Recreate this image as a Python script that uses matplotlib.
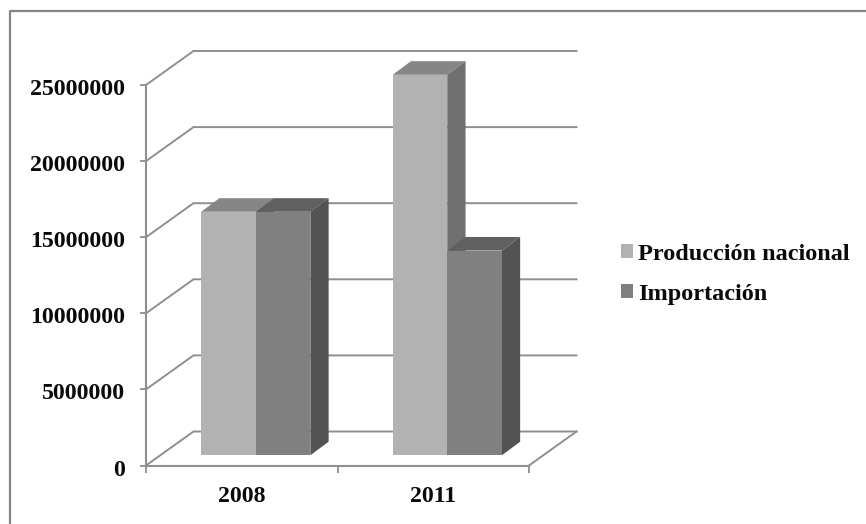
import matplotlib
matplotlib.use('Agg')
import numpy as np
import matplotlib.pyplot as plt
from matplotlib.lines import Line2D
from matplotlib.patches import Patch, Polygon
from matplotlib.transforms import ScaledTranslation

years = ['2008', '2011']
produccion = [16000000, 25000000]
importacion = [16000000, 13450000]
series_names = ['Producción nacional', 'Importación']
yticks = [0, 5000000, 10000000, 15000000, 20000000, 25000000]

W, H = 866, 524
front_c = ['#b2b2b2', '#808080']
top_c = ['#868686', '#606060']
side_c = ['#707070', '#535353']
line_c = '#8f8f8f'
text_c = '#0a0a0a'

plt.rcParams['font.family'] = ['Liberation Serif', 'DejaVu Serif']
plt.rcParams['font.weight'] = 'bold'

fig = plt.figure(figsize=(W / 100, H / 100), dpi=100)
ax = fig.add_axes([146 / W, 1 - 465.5 / H, (529 - 146) / W, (465.5 - 85) / H])
ax.set_xlim(0, 2)
ax.set_ylim(0, 25000000)

# pixels -> data units, for the fake 3d offsets
px_x = 2 / (529 - 146)
px_y = 25000000 / (465.5 - 85)

# outer frame, runs off the right and bottom of the image
fig.add_artist(Line2D([9.5 / W, 9.5 / W, 1], [0, 1 - 11 / H, 1 - 11 / H], color='#858585', lw=1.6))

# back wall and side wall lines
back_x = 47.5 * px_x
back_y = 34 * px_y
for v in yticks:
    ax.plot([0, back_x, 2 + back_x], [v, v + back_y, v + back_y], color=line_c, lw=1.4,
            clip_on=False, zorder=1, solid_joinstyle='miter')
ax.plot([2, 2 + back_x], [0, back_y], color=line_c, lw=1.4, clip_on=False, zorder=1)

# bars: front face from ax.bar, then top and side faces offset into the depth
bar_w = 54.6 * px_x
base_dx = 14 * px_x
base_dy = 10.2 * px_y
depth_x = 18.3 * px_x
depth_y = 13.6 * px_y
centers = np.array([0.5, 1.5]) + base_dx

def draw_bar(x0, val, i):
    x1 = x0 + bar_w
    y0 = base_dy
    y1 = base_dy + val
    ax.bar(x0, val, bar_w, bottom=y0, align='edge', color=front_c[i], zorder=4, clip_on=False)
    ax.add_patch(Polygon([(x0, y1), (x0 + depth_x, y1 + depth_y), (x1 + depth_x, y1 + depth_y), (x1, y1)],
                         closed=True, fc=top_c[i], ec='none', zorder=3, clip_on=False))
    ax.add_patch(Polygon([(x1, y0), (x1 + depth_x, y0 + depth_y), (x1 + depth_x, y1 + depth_y), (x1, y1)],
                         closed=True, fc=side_c[i], ec='none', zorder=3, clip_on=False))

for k in range(len(years)):
    draw_bar(centers[k] - bar_w, produccion[k], 0)
    draw_bar(centers[k], importacion[k], 1)

for s in ['top', 'right']:
    ax.spines[s].set_visible(False)
for s in ['left', 'bottom']:
    ax.spines[s].set_color(line_c)
    ax.spines[s].set_linewidth(1.5)
    ax.spines[s].set_zorder(2)
ax.patch.set_alpha(0)

ax.set_yticks(yticks)
ax.set_yticklabels([str(v) for v in yticks], fontsize=17.2, color=text_c, fontweight='bold')
ax.set_xticks([0, 1, 2])
ax.set_xticklabels([])
ax.set_xticks([0.5, 1.5], minor=True)
ax.set_xticklabels(years, minor=True, fontsize=17.2, color=text_c, fontweight='bold')
ax.tick_params(axis='y', length=4.5, width=1.3, color=line_c, pad=10.5)
ax.tick_params(axis='x', which='major', length=5, width=1.3, color=line_c)
ax.tick_params(axis='x', which='minor', length=0, pad=15)

# y labels sit a little below their ticks
for lab in ax.get_yticklabels():
    lab.set_transform(lab.get_transform() + ScaledTranslation(0, -2 / 100, fig.dpi_scale_trans))

handles = [Patch(fc=front_c[0], ec='none'), Patch(fc=front_c[1], ec='none')]
ax.legend(handles, series_names, loc='upper left', bbox_to_anchor=(620.5 / W, 1 - 243.5 / H),
          bbox_transform=fig.transFigure, frameon=False, borderpad=0, borderaxespad=0,
          handlelength=0.5, handleheight=0.5, handletextpad=0.22, labelspacing=0.8,
          labelcolor=text_c, prop={'family': 'Liberation Serif', 'weight': 'bold', 'size': 17.5})

fig.savefig('out.png', dpi=100)
